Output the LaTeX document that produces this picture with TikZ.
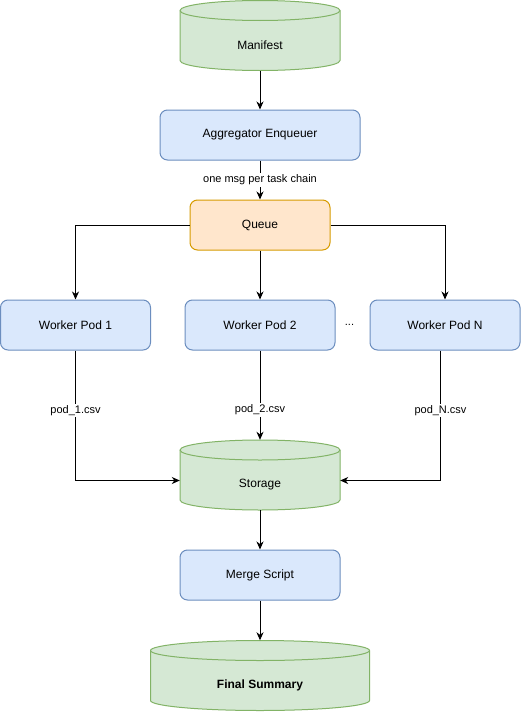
\documentclass[tikz,border=0pt]{standalone}
\usepackage{fontspec}
\setmainfont{Liberation Sans}
\usetikzlibrary{arrows.meta}
\definecolor{bfill}{HTML}{DAE8FC}
\definecolor{bline}{HTML}{6C8EBF}
\definecolor{ofill}{HTML}{FFE6CC}
\definecolor{oline}{HTML}{D79B00}
\definecolor{gfill}{HTML}{D5E8D4}
\definecolor{gline}{HTML}{82B366}
\tikzset{
  boxbase/.style={rectangle, rounded corners=7.5pt, line width=1pt, inner sep=0pt, font=\fontsize{12}{14}\selectfont},
  bluebox/.style={boxbase, draw=bline, fill=bfill},
  orangebox/.style={boxbase, draw=oline, fill=ofill},
  cylbody/.style={draw=gline, fill=gfill, line width=1pt},
  cylfront/.style={draw=gline, line width=1pt},
  cyltext/.style={font=\fontsize{12}{14}\selectfont, inner sep=0pt},
  anchorbox/.style={rectangle, inner sep=0pt, draw=none},
  arr/.style={line width=1pt, -{Stealth[length=8pt,width=7pt,inset=2.5pt]}},
  lbl/.style={fill=white, inner sep=1.5pt, font=\fontsize{11}{13}\selectfont},
}
\begin{document}
\begin{tikzpicture}[x=1pt,y=1pt]
\useasboundingbox (0,0) rectangle (522,-712);
\fill[white] (0,0) rectangle (522,-712);

% Manifest cylinder
\draw[cylbody] (180,-10.5) -- (180,-60.5) arc[start angle=180,end angle=360,x radius=80,y radius=10] -- (340,-10.5) arc[start angle=0,end angle=180,x radius=80,y radius=10] -- cycle;
\draw[cylfront] (180,-10.5) arc[start angle=180,end angle=360,x radius=80,y radius=10];
\node[anchorbox, minimum width=160pt, minimum height=70pt] (man) at (260,-35.5) {};
\node[cyltext] (mantext) at (260,-45.5) {Manifest};

% Storage cylinder
\draw[cylbody] (180,-450) -- (180,-500) arc[start angle=180,end angle=360,x radius=80,y radius=10] -- (340,-450) arc[start angle=0,end angle=180,x radius=80,y radius=10] -- cycle;
\draw[cylfront] (180,-450) arc[start angle=180,end angle=360,x radius=80,y radius=10];
\node[anchorbox, minimum width=160pt, minimum height=70pt] (sto) at (260,-475) {};
\node[cyltext] (stotext) at (260,-485) {Storage};

% Final Summary cylinder
\draw[cylbody] (150.5,-650.5) -- (150.5,-700.5) arc[start angle=180,end angle=360,x radius=109.5,y radius=10] -- (369.5,-650.5) arc[start angle=0,end angle=180,x radius=109.5,y radius=10] -- cycle;
\draw[cylfront] (150.5,-650.5) arc[start angle=180,end angle=360,x radius=109.5,y radius=10];
\node[anchorbox, minimum width=219pt, minimum height=70pt] (fin) at (260,-675.5) {};
\node[cyltext, font=\fontsize{12}{14}\selectfont\bfseries] (fintext) at (260,-685.5) {Final Summary};

% Boxes
\node[bluebox, minimum width=200pt, minimum height=50pt] (agg) at (260,-135) {Aggregator Enqueuer};
\node[orangebox, minimum width=140pt, minimum height=50pt] (q) at (260,-225) {Queue};
\node[bluebox, minimum width=150pt, minimum height=50pt] (p1) at (75.5,-325) {Worker Pod 1};
\node[bluebox, minimum width=150pt, minimum height=50pt] (p2) at (260,-325) {Worker Pod 2};
\node[bluebox, minimum width=150pt, minimum height=50pt] (pN) at (445,-325) {Worker Pod N};
\node[font=\fontsize{11}{13}\selectfont, inner sep=0pt] (dots) at (349.5,-325) {...};
\node[bluebox, minimum width=160pt, minimum height=50pt] (mer) at (260,-575) {Merge Script};

% Connectors
\draw[arr] (man.south) -- (agg.north);
\draw[arr] (agg.south) -- node[lbl] {one msg per task chain} (q.north);
\draw[arr] (q.west) -| (p1.north);
\draw[arr] (q.south) -- (p2.north);
\draw[arr] (q.east) -| (pN.north);
\draw[arr] (p1.south) |- node[lbl, pos=0.23] {pod\_1.csv} ([yshift=-5.5pt]sto.west);
\draw[arr] (p2.south) -- node[lbl, pos=0.667] {pod\_2.csv} (sto.north);
\draw[arr] ([xshift=-4.5pt]pN.south) |- node[lbl, pos=0.23] {pod\_N.csv} ([yshift=-5.5pt]sto.east);
\draw[arr] (sto.south) -- (mer.north);
\draw[arr] (mer.south) -- (fin.north);
\end{tikzpicture}
\end{document}
